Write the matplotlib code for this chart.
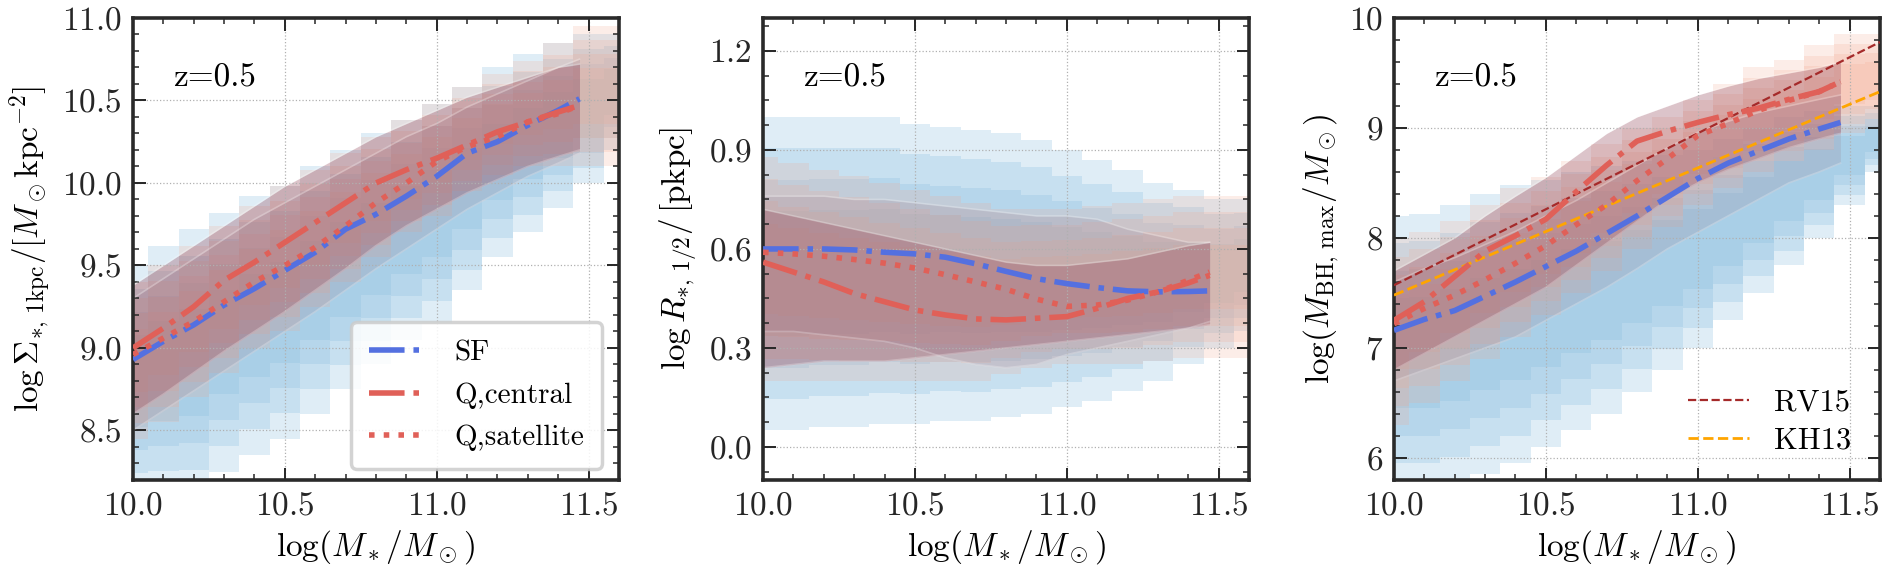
import numpy as np
import matplotlib
matplotlib.use("Agg")
import matplotlib.pyplot as plt
from matplotlib.ticker import MultipleLocator

plt.rcParams["font.family"] = "cmr10"
plt.rcParams["mathtext.fontset"] = "cm"
plt.rcParams["axes.formatter.use_mathtext"] = True
plt.rcParams["font.size"] = 24

SF_COL = "#5470e0"
Q_COL = "#e06058"

# stellar mass nodes of the running medians
x_med = [10.0, 10.1, 10.2, 10.3, 10.4, 10.5, 10.6, 10.7, 10.8, 10.9,
         11.0, 11.1, 11.2, 11.3, 11.4, 11.47]
# stellar mass nodes of the 2d histogram envelopes
x_cloud = [10.0, 10.1, 10.2, 10.3, 10.4, 10.5, 10.6, 10.7, 10.8, 10.9,
           11.0, 11.1, 11.2, 11.3, 11.4, 11.5, 11.6]

# panel 1: Sigma_1kpc
sig_sf = [8.93, 9.04, 9.14, 9.26, 9.36, 9.47, 9.58, 9.72, 9.81, 9.92,
          10.04, 10.18, 10.25, 10.35, 10.44, 10.51]
sig_qc = [9.0, 9.12, 9.25, 9.41, 9.52, 9.64, 9.76, 9.88, 10.0, 10.08,
          10.15, 10.23, 10.31, 10.37, 10.43, 10.47]
sig_qs = [8.96, 9.06, 9.16, 9.28, 9.40, 9.50, 9.61, 9.74, 9.88, 10.0,
          10.13, 10.22, 10.28, 10.37, 10.42, 10.47]
sig_q_lo = [8.6, 8.72, 8.85, 8.98, 9.1, 9.22, 9.35, 9.48, 9.62, 9.74,
            9.84, 9.94, 10.02, 10.1, 10.16, 10.2]
sig_q_hi = [9.38, 9.5, 9.62, 9.74, 9.86, 9.98, 10.08, 10.18, 10.28, 10.36,
            10.44, 10.52, 10.58, 10.64, 10.7, 10.72]
sig_sf_lo = [8.5, 8.62, 8.74, 8.86, 8.98, 9.1, 9.22, 9.35, 9.48, 9.6,
             9.72, 9.84, 9.94, 10.04, 10.12, 10.18]
sig_sf_hi = [9.3, 9.42, 9.54, 9.66, 9.78, 9.88, 9.98, 10.08, 10.18, 10.28,
             10.36, 10.46, 10.54, 10.62, 10.7, 10.75]
sig_cl_sf_lo = [8.1, 8.1, 8.1, 8.25, 8.35, 8.45, 8.6, 8.75, 8.9, 9.05,
                9.15, 9.35, 9.55, 9.7, 9.85, 10.0, 10.2]
sig_cl_sf_hi = [9.5, 9.62, 9.72, 9.82, 9.92, 9.98, 10.1, 10.2, 10.3, 10.38,
                10.48, 10.58, 10.7, 10.78, 10.85, 10.9, 10.9]
sig_cl_q_lo = [8.45, 8.55, 8.7, 8.85, 9.0, 9.1, 9.25, 9.4, 9.55, 9.7,
               9.8, 9.95, 10.05, 10.1, 10.1, 10.1, 10.1]
sig_cl_q_hi = [9.4, 9.5, 9.62, 9.74, 9.86, 9.98, 10.08, 10.18, 10.28, 10.38,
               10.48, 10.58, 10.66, 10.74, 10.85, 10.95, 10.95]

# panel 2: R_1/2
re_sf = [0.60, 0.60, 0.60, 0.597, 0.59, 0.585, 0.575, 0.555, 0.532, 0.51,
         0.495, 0.483, 0.473, 0.47, 0.471, 0.473]
re_qc = [0.56, 0.53, 0.50, 0.465, 0.44, 0.415, 0.40, 0.388, 0.385, 0.39,
         0.395, 0.42, 0.45, 0.47, 0.497, 0.52]
re_qs = [0.59, 0.585, 0.578, 0.568, 0.557, 0.542, 0.522, 0.50, 0.478, 0.448,
         0.426, 0.43, 0.445, 0.47, 0.505, 0.53]
re_q_lo = [0.24, 0.25, 0.26, 0.26, 0.26, 0.27, 0.28, 0.29, 0.3, 0.31,
           0.32, 0.33, 0.34, 0.35, 0.36, 0.37]
re_q_hi = [0.72, 0.7, 0.68, 0.66, 0.64, 0.62, 0.6, 0.58, 0.56, 0.55,
           0.55, 0.56, 0.57, 0.59, 0.61, 0.62]
re_sf_lo = [0.35, 0.35, 0.34, 0.33, 0.32, 0.3, 0.27, 0.25, 0.24, 0.25,
            0.28, 0.3, 0.32, 0.34, 0.36, 0.38]
re_sf_hi = [0.76, 0.76, 0.76, 0.75, 0.75, 0.74, 0.73, 0.72, 0.71, 0.7,
            0.7, 0.69, 0.66, 0.64, 0.62, 0.62]
re_cl_sf_lo = [0.05, 0.05, 0.06, 0.06, 0.07, 0.07, 0.08, 0.08, 0.09, 0.1,
               0.12, 0.14, 0.17, 0.2, 0.25, 0.3, 0.35]
re_cl_sf_hi = [1.0, 1.0, 1.0, 1.0, 1.0, 0.98, 0.97, 0.96, 0.95, 0.93,
               0.9, 0.87, 0.84, 0.8, 0.78, 0.75, 0.75]
re_cl_q_lo = [0.2, 0.2, 0.2, 0.2, 0.2, 0.2, 0.2, 0.2, 0.22, 0.24,
              0.25, 0.25, 0.25, 0.26, 0.27, 0.27, 0.27]
re_cl_q_hi = [0.88, 0.86, 0.84, 0.82, 0.8, 0.78, 0.76, 0.74, 0.72, 0.72,
              0.72, 0.73, 0.74, 0.75, 0.76, 0.76, 0.76]

# panel 3: M_BH
bh_sf = [7.16, 7.26, 7.34, 7.47, 7.60, 7.74, 7.88, 8.04, 8.20, 8.37,
         8.54, 8.68, 8.79, 8.90, 8.99, 9.05]
bh_qc = [7.25, 7.42, 7.65, 7.88, 8.02, 8.17, 8.42, 8.66, 8.88, 8.97,
         9.05, 9.12, 9.18, 9.26, 9.33, 9.42]
bh_qs = [7.22, 7.36, 7.48, 7.62, 7.77, 7.93, 8.12, 8.30, 8.52, 8.72,
         8.93, 9.04, 9.16, 9.25, 9.33, 9.42]
bh_q_lo = [6.8, 6.95, 7.1, 7.25, 7.4, 7.55, 7.75, 7.95, 8.15, 8.35,
           8.5, 8.62, 8.72, 8.82, 8.9, 8.95]
bh_q_hi = [7.7, 7.85, 8.0, 8.2, 8.38, 8.55, 8.75, 8.95, 9.1, 9.2,
           9.3, 9.38, 9.45, 9.5, 9.55, 9.6]
bh_sf_lo = [6.7, 6.8, 6.9, 7.0, 7.1, 7.25, 7.4, 7.55, 7.72, 7.9,
            8.05, 8.2, 8.35, 8.5, 8.6, 8.68]
bh_sf_hi = [7.6, 7.72, 7.82, 7.94, 8.06, 8.2, 8.34, 8.5, 8.66, 8.82,
            8.96, 9.06, 9.14, 9.2, 9.26, 9.3]
bh_cl_sf_lo = [5.7, 5.7, 5.75, 5.85, 5.95, 6.1, 6.25, 6.4, 6.6, 6.8,
               7.0, 7.25, 7.5, 7.75, 8.0, 8.3, 8.6]
bh_cl_sf_hi = [8.2, 8.22, 8.3, 8.4, 8.48, 8.53, 8.6, 8.65, 8.7, 8.75,
               8.8, 8.9, 9.0, 9.1, 9.15, 9.2, 9.2]
bh_cl_q_lo = [6.3, 6.5, 6.7, 6.9, 7.1, 7.3, 7.5, 7.7, 7.9, 8.1,
              8.3, 8.45, 8.6, 8.7, 8.8, 8.95, 9.0]
bh_cl_q_hi = [8.0, 8.05, 8.15, 8.3, 8.45, 8.55, 8.7, 8.85, 9.0, 9.1,
              9.25, 9.4, 9.55, 9.62, 9.75, 9.85, 9.85]

# scaling relations
rel_x = [10.0, 11.6]
rv15_y = [7.57, 9.78]
kh13_y = [7.48, 9.33]


def draw_cloud(ax, lo, hi, color, alpha):
    # nested layers so the histogram looks denser towards its middle
    lo = np.asarray(lo)
    hi = np.asarray(hi)
    mid = (lo + hi) / 2
    half = (hi - lo) / 2
    for f in (1.0, 0.8, 0.6, 0.4):
        ax.fill_between(x_cloud, mid - f * half, mid + f * half, step="mid",
                        color=color, alpha=alpha, lw=0)


def draw_band(ax, lo, hi, color, alpha):
    ax.fill_between(x_med, lo, hi, color=color, alpha=alpha, lw=0)
    ax.plot(x_med, lo, color="white", alpha=0.25, lw=1.2)
    ax.plot(x_med, hi, color="white", alpha=0.25, lw=1.2)


def style(ax, ylim, major, minor):
    ax.set_xlim(10.0, 11.6)
    ax.set_ylim(*ylim)
    ax.xaxis.set_major_locator(MultipleLocator(0.5))
    ax.xaxis.set_minor_locator(MultipleLocator(0.1))
    ax.yaxis.set_major_locator(MultipleLocator(major))
    ax.yaxis.set_minor_locator(MultipleLocator(minor))
    ax.tick_params(which="both", direction="in", top=True, right=True,
                   colors="#262626", labelcolor="#262626")
    ax.tick_params(which="major", length=9, width=1.4, labelsize=24, pad=8)
    ax.tick_params(which="minor", length=4.5, width=1.1)
    for s in ax.spines.values():
        s.set_linewidth(2.6)
        s.set_color("#2a2a2a")
    ax.set_axisbelow("line")
    ax.grid(True, which="major", ls=":", color="#b0b0b0", lw=0.9)
    ax.set_xlabel(r"$\log(M_*/M_\odot)$", fontsize=24, labelpad=6)
    ax.text(0.083, 0.87, "z=0.5", transform=ax.transAxes, fontsize=24,
            va="center", ha="left")


fig = plt.figure(figsize=(18.86, 5.74), dpi=100)
w = 0.2577
h = 0.805
b = 0.1638
ax1 = fig.add_axes([0.0705, b, w, h])
ax2 = fig.add_axes([0.4046, b, w, h])
ax3 = fig.add_axes([0.7391, b, w, h])

panels = [
    (ax1, sig_cl_sf_lo, sig_cl_sf_hi, sig_cl_q_lo, sig_cl_q_hi,
     sig_sf_lo, sig_sf_hi, sig_q_lo, sig_q_hi, sig_sf, sig_qc, sig_qs),
    (ax2, re_cl_sf_lo, re_cl_sf_hi, re_cl_q_lo, re_cl_q_hi,
     re_sf_lo, re_sf_hi, re_q_lo, re_q_hi, re_sf, re_qc, re_qs),
    (ax3, bh_cl_sf_lo, bh_cl_sf_hi, bh_cl_q_lo, bh_cl_q_hi,
     bh_sf_lo, bh_sf_hi, bh_q_lo, bh_q_hi, bh_sf, bh_qc, bh_qs),
]

for (ax, csl, csh, cql, cqh, sl, sh, ql, qh, msf, mqc, mqs) in panels:
    draw_cloud(ax, csl, csh, "#86bbdf", 0.26)
    draw_cloud(ax, cql, cqh, "#f4a78e", 0.2)
    draw_band(ax, sl, sh, "#9a8598", 0.22)
    draw_band(ax, ql, qh, "#94485c", 0.32)
    ax.plot(x_med, msf, color=SF_COL, lw=4, ls="-.", label="SF", zorder=5)
    ax.plot(x_med, mqc, color=Q_COL, lw=4, ls="-.", label="Q,central", zorder=5)
    ax.plot(x_med, mqs, color=Q_COL, lw=4, ls=":", label="Q,satellite", zorder=5)

style(ax1, (8.2, 11.0), 0.5, 0.1)
style(ax2, (-0.1, 1.3), 0.3, 0.075)
style(ax3, (5.8, 10.0), 1.0, 0.2)

ax1.set_ylabel(r"$\log\Sigma_{*,\,1{\rm kpc}}/[M_\odot{\rm kpc}^{-2}]$",
               fontsize=24, labelpad=6)
ax2.set_ylabel(r"$\log R_{*,\,1/2}/\,[{\rm pkpc}]$", fontsize=24, labelpad=6)
ax3.set_ylabel(r"$\log(M_{\rm BH,\,max}/M_\odot)$", fontsize=24, labelpad=6)

leg1 = ax1.legend(loc="lower right", bbox_to_anchor=(0.965, 0.024),
                  borderaxespad=0, fontsize=21, handlelength=1.85,
                  handletextpad=1.1, labelspacing=0.55, borderpad=0.6,
                  fancybox=True, framealpha=0.85, edgecolor="#cccccc")
leg1.get_frame().set_linewidth(2.5)

l_rv, = ax3.plot(rel_x, rv15_y, color="#a52a2a", ls="--", lw=1.6, zorder=4)
l_kh, = ax3.plot(rel_x, kh13_y, color="orange", ls="--", lw=2.0, zorder=4)
ax3.legend([l_rv, l_kh], ["RV15", "KH13"], loc="lower right",
           bbox_to_anchor=(0.94, 0.055), borderaxespad=0, borderpad=0,
           fontsize=22, frameon=False, handlelength=2.0, handletextpad=0.8,
           labelspacing=0.35)

fig.savefig("out.png", dpi=100)
